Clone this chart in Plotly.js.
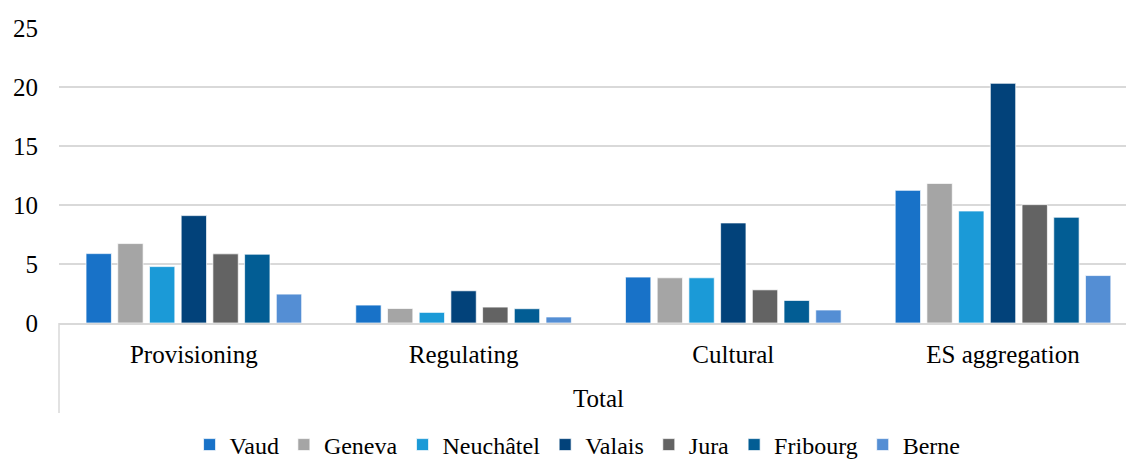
<!DOCTYPE html>
<html>
<head>
<meta charset="utf-8">
<script src="https://cdn.plot.ly/plotly-3.0.1.min.js"></script>
<style>html,body{margin:0;padding:0;background:#fff;}#chart{width:1126px;height:459px;}</style>
</head>
<body>
<div id="chart"></div>
<script>
const groupLabel = 'Total';
const categories = ['Provisioning', 'Regulating', 'Cultural', 'ES aggregation'];
const seriesNames = ['Vaud', 'Geneva', 'Neuchâtel', 'Valais', 'Jura', 'Fribourg', 'Berne'];
const vaud      = [5.88, 1.52, 3.89, 11.24];
const geneva    = [6.73, 1.23, 3.83, 11.83];
const neuchatel = [4.78, 0.90, 3.83, 9.49];
const valais    = [9.10, 2.73, 8.48, 20.31];
const jura      = [5.86, 1.35, 2.81, 10.03];
const fribourg  = [5.83, 1.21, 1.91, 8.96];
const berne     = [2.45, 0.51, 1.10, 4.02];
const seriesValues = [vaud, geneva, neuchatel, valais, jura, fribourg, berne];
const colors = ['#1872C8', '#A5A5A5', '#1B9AD7', '#02427A', '#636363', '#025D94', '#548ED4'];
const yTicks = [0, 5, 10, 15, 20, 25];

const font = 'Liberation Serif';
const plotH = 459 - 28 - 136;

const traces = seriesNames.map((name, i) => ({
  type: 'bar',
  name: name,
  x: categories,
  y: seriesValues[i],
  marker: {color: colors[i], line: {color: 'rgba(255,255,255,0.7)', width: 1}},
  hoverinfo: 'y+name'
}));

const layout = {
  width: 1126, height: 459,
  margin: {l: 59, r: 0, t: 28, b: 136, pad: 0},
  paper_bgcolor: '#ffffff', plot_bgcolor: '#ffffff',
  font: {family: font, size: 25, color: '#000000'},
  barmode: 'group',
  bargap: 0.177,
  bargroupgap: 0.2,
  showlegend: true,
  legend: {
    orientation: 'h', x: 0.486, xanchor: 'center',
    yref: 'container', y: 14 / 459, yanchor: 'middle',
    font: {family: font, size: 24, color: '#000'},
    itemwidth: 30, traceorder: 'normal'
  },
  xaxis: {
    type: 'category',
    categoryorder: 'array', categoryarray: categories,
    range: [-0.5, 3.456], autorange: false,
    showgrid: false, zeroline: false,
    showline: true, linecolor: '#D9D9D9', linewidth: 1.5,
    ticks: '', ticklabelstandoff: 8,
    tickfont: {family: font, size: 25, color: '#000'}
  },
  yaxis: {
    range: [0, 25], autorange: false,
    tickvals: yTicks, ticktext: yTicks.map(String),
    showgrid: true, gridcolor: '#D9D9D9', gridwidth: 1.5,
    zeroline: false, showline: false, ticks: '',
    ticklabelstandoff: 20,
    tickfont: {family: font, size: 25, color: '#000'}
  },
  annotations: [{
    text: groupLabel, xref: 'paper', yref: 'paper',
    x: (598 - 59) / (1126 - 59), y: -(398 - 323) / plotH,
    xanchor: 'center', yanchor: 'middle', showarrow: false,
    font: {family: font, size: 25, color: '#000'}
  }],
  shapes: [{
    type: 'line', xref: 'paper', yref: 'paper',
    x0: 0, x1: 0, y0: 0, y1: -(413 - 323) / plotH,
    line: {color: '#D9D9D9', width: 1.5}
  }]
};

Plotly.newPlot('chart', traces, layout, {displayModeBar: false, staticPlot: true});
</script>
</body>
</html>
